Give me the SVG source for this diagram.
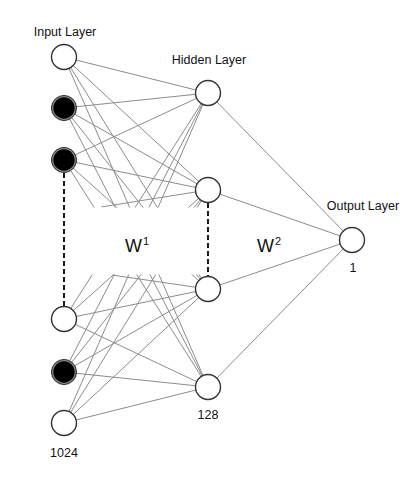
<svg xmlns="http://www.w3.org/2000/svg" width="415" height="479" viewBox="0 0 415 479">
<style>
.e{stroke:#8c8c8c;stroke-width:1;fill:none}
.n{fill:#fff;stroke:#333;stroke-width:1.4}
.b{fill:#000;stroke:#333;stroke-width:1}
.ring{fill:none;stroke:#8a8a8a;stroke-width:1.2}
.d{stroke:#000;stroke-width:1.8;stroke-dasharray:5 3;fill:none}
text{font-family:"Liberation Sans",Arial,sans-serif;fill:#111}
.l{font-size:12.5px}
.w{font-size:18px}
.s{font-size:11px}
</style>
<defs>
<clipPath id="top"><rect x="0" y="0" width="415" height="207.5"/></clipPath>
<clipPath id="bot"><rect x="0" y="274.5" width="415" height="205"/></clipPath>
</defs>
<rect width="415" height="479" fill="#fff"/>
<g id="connectors">
<g clip-path="url(#top)" class="e">
<line x1="64" y1="57" x2="208" y2="93"/><line x1="64" y1="57" x2="208" y2="190"/><line x1="64" y1="57" x2="208" y2="289"/><line x1="64" y1="57" x2="208" y2="387"/>
<line x1="64" y1="108" x2="208" y2="93"/><line x1="64" y1="108" x2="208" y2="190"/><line x1="64" y1="108" x2="208" y2="289"/><line x1="64" y1="108" x2="208" y2="387"/>
<line x1="64" y1="160" x2="208" y2="93"/><line x1="64" y1="160" x2="208" y2="190"/><line x1="64" y1="160" x2="208" y2="289"/><line x1="64" y1="160" x2="208" y2="387"/>
<line x1="208" y1="93" x2="64" y2="319"/><line x1="208" y1="93" x2="64" y2="372"/><line x1="208" y1="93" x2="64" y2="423"/>
<line x1="208" y1="190" x2="64" y2="319"/><line x1="208" y1="190" x2="64" y2="372"/><line x1="208" y1="190" x2="64" y2="423"/>
<line x1="101" y1="207" x2="208" y2="190"/>
</g>
<g clip-path="url(#bot)" class="e">
<line x1="64" y1="319" x2="208" y2="93"/><line x1="64" y1="319" x2="208" y2="190"/><line x1="64" y1="319" x2="208" y2="289"/><line x1="64" y1="319" x2="208" y2="387"/>
<line x1="64" y1="372" x2="208" y2="93"/><line x1="64" y1="372" x2="208" y2="190"/><line x1="64" y1="372" x2="208" y2="289"/><line x1="64" y1="372" x2="208" y2="387"/>
<line x1="64" y1="423" x2="208" y2="93"/><line x1="64" y1="423" x2="208" y2="190"/><line x1="64" y1="423" x2="208" y2="289"/><line x1="64" y1="423" x2="208" y2="387"/>
<line x1="208" y1="289" x2="64" y2="57"/><line x1="208" y1="289" x2="64" y2="108"/><line x1="208" y1="289" x2="64" y2="160"/>
<line x1="208" y1="387" x2="64" y2="57"/><line x1="208" y1="387" x2="64" y2="108"/><line x1="208" y1="387" x2="64" y2="160"/>
<line x1="112" y1="275" x2="208" y2="289"/>
</g>
<g class="e">
<line x1="208" y1="93" x2="352" y2="240"/><line x1="208" y1="190" x2="352" y2="240"/><line x1="208" y1="289" x2="352" y2="240"/><line x1="208" y1="387" x2="352" y2="240"/>
</g>
<line class="d" x1="64" y1="173" x2="64" y2="306"/>
<line class="d" x1="208" y1="203" x2="208" y2="276"/>
</g>
<g id="input1"><circle class="n" cx="64" cy="57" r="12.5"/></g>
<g id="input2"><circle class="b" cx="64" cy="108" r="12.5"/><circle class="ring" cx="64" cy="108" r="11.3"/></g>
<g id="input3"><circle class="b" cx="64" cy="160" r="12.5"/><circle class="ring" cx="64" cy="160" r="11.3"/></g>
<g id="input4"><circle class="n" cx="64" cy="319" r="12.5"/></g>
<g id="input5"><circle class="b" cx="64" cy="372" r="12.5"/><circle class="ring" cx="64" cy="372" r="11.3"/></g>
<g id="input6"><circle class="n" cx="64" cy="423" r="12.5"/></g>
<g id="hidden1"><circle class="n" cx="208" cy="93" r="12.5"/></g>
<g id="hidden2"><circle class="n" cx="208" cy="190" r="12.5"/></g>
<g id="hidden3"><circle class="n" cx="208" cy="289" r="12.5"/></g>
<g id="hidden4"><circle class="n" cx="208" cy="387" r="12.5"/></g>
<g id="output"><circle class="n" cx="352" cy="240" r="12.5"/></g>
<g id="labels">
<text class="l" x="65" y="36" text-anchor="middle">Input Layer</text>
<text class="l" x="209" y="64" text-anchor="middle">Hidden Layer</text>
<text class="l" x="363" y="210" text-anchor="middle">Output Layer</text>
<text class="l" x="353" y="272" text-anchor="middle">1</text>
<text class="l" x="208" y="419" text-anchor="middle">128</text>
<text class="l" x="64" y="457" text-anchor="middle">1024</text>
<text class="w" x="125" y="252">W<tspan class="s" dx="1" dy="-7">1</tspan></text>
<text class="w" x="257" y="252">W<tspan class="s" dx="1" dy="-7">2</tspan></text>
</g>
</svg>
